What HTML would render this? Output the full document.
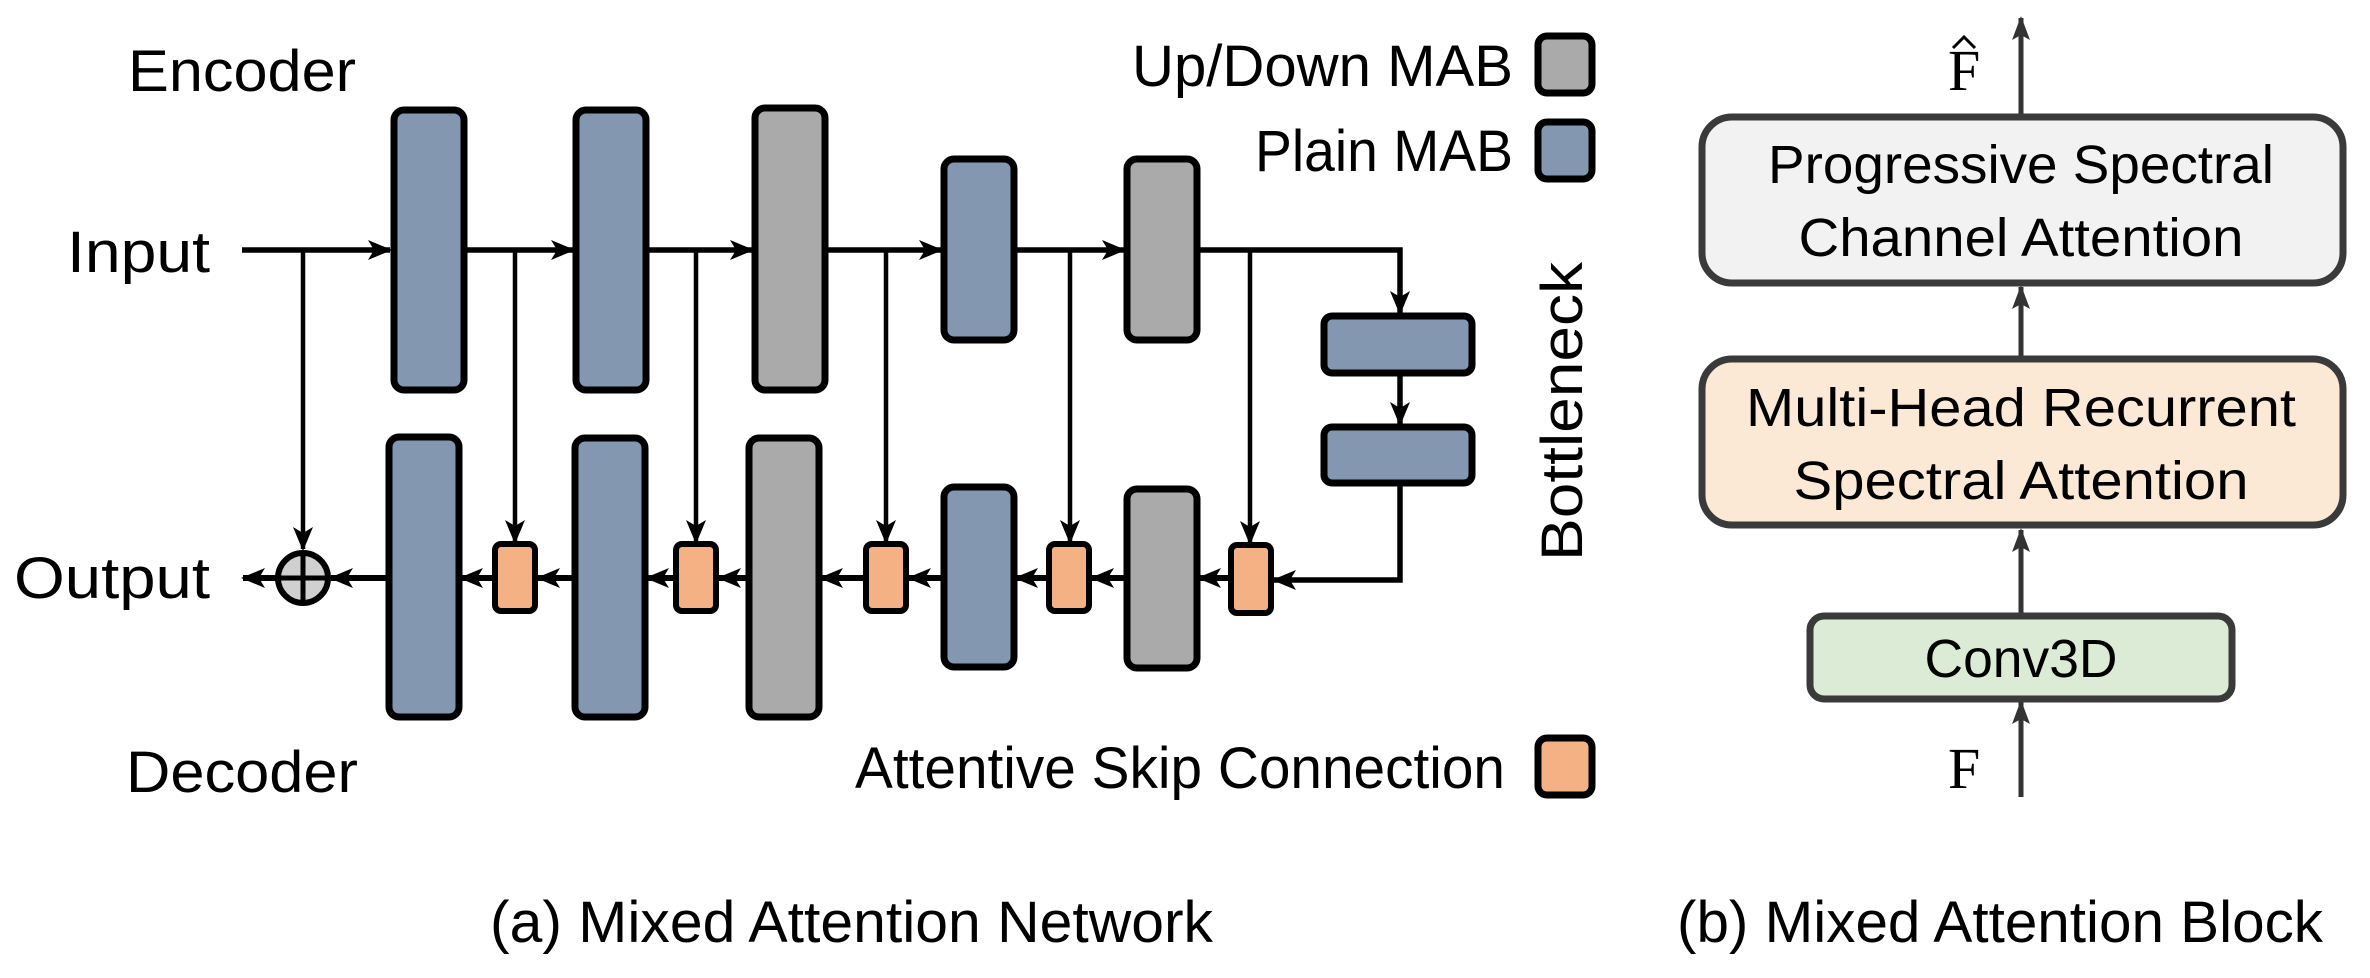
<!DOCTYPE html>
<html><head><meta charset="utf-8"><style>
html,body{margin:0;padding:0;background:#fff;}
svg{display:block;}
text{font-family:"Liberation Sans",sans-serif;fill:#000;}
</style></head><body>
<svg width="2370" height="978" viewBox="0 0 2370 978" xmlns="http://www.w3.org/2000/svg">
<defs>
<marker id="a" markerUnits="userSpaceOnUse" markerWidth="26" markerHeight="22" refX="22" refY="11" orient="auto">
<path d="M0,1 L24,11 L0,21 L6,11 Z" fill="#000"/>
</marker>
<marker id="b" markerUnits="userSpaceOnUse" markerWidth="26" markerHeight="26" refX="22" refY="11" orient="auto">
<path d="M0,2 L24,11 L0,20 L5,11 Z" fill="#333"/>
</marker>
</defs>
<g stroke="#000" stroke-width="5.5" fill="none">
<line x1="242" y1="250" x2="390" y2="250" marker-end="url(#a)"/>
<line x1="464" y1="250" x2="573" y2="250" marker-end="url(#a)"/>
<line x1="646" y1="250" x2="752" y2="250" marker-end="url(#a)"/>
<line x1="825" y1="250" x2="941" y2="250" marker-end="url(#a)"/>
<line x1="1014" y1="250" x2="1124" y2="250" marker-end="url(#a)"/>
<polyline points="1197,250 1400,250 1400,313" marker-end="url(#a)"/>
<line x1="1400" y1="373" x2="1400" y2="424" marker-end="url(#a)"/>
<polyline points="1400,483 1400,580 1274,580" marker-end="url(#a)"/>
</g>
<g stroke="#000" stroke-width="4.5" fill="none">
<line x1="303" y1="250" x2="303" y2="549" marker-end="url(#a)"/>
<line x1="515" y1="250" x2="515" y2="542" marker-end="url(#a)"/>
<line x1="696" y1="250" x2="696" y2="542" marker-end="url(#a)"/>
<line x1="886" y1="250" x2="886" y2="542" marker-end="url(#a)"/>
<line x1="1070" y1="250" x2="1070" y2="542" marker-end="url(#a)"/>
<line x1="1250" y1="250" x2="1250" y2="543" marker-end="url(#a)"/>
</g>
<g stroke="#000" stroke-width="6" fill="none">
<line x1="1230" y1="578" x2="1199" y2="578" marker-end="url(#a)"/>
<line x1="1126" y1="578" x2="1092" y2="578" marker-end="url(#a)"/>
<line x1="1048" y1="578" x2="1016" y2="578" marker-end="url(#a)"/>
<line x1="943" y1="578" x2="909" y2="578" marker-end="url(#a)"/>
<line x1="865" y1="578" x2="821" y2="578" marker-end="url(#a)"/>
<line x1="748" y1="578" x2="719" y2="578" marker-end="url(#a)"/>
<line x1="675" y1="578" x2="647" y2="578" marker-end="url(#a)"/>
<line x1="574" y1="578" x2="538" y2="578" marker-end="url(#a)"/>
<line x1="494" y1="578" x2="461" y2="578" marker-end="url(#a)"/>
<line x1="388" y1="578" x2="331" y2="578" marker-end="url(#a)"/>
<line x1="277" y1="578" x2="243" y2="578" marker-end="url(#a)"/>
</g>
<circle cx="303" cy="578" r="25" fill="#d0d0d0" stroke="#000" stroke-width="6"/>
<line x1="303" y1="553" x2="303" y2="603" stroke="#000" stroke-width="5"/>
<line x1="278" y1="578" x2="328" y2="578" stroke="#000" stroke-width="5"/>
<g stroke="#000" stroke-width="7">
<rect x="394" y="110" width="70" height="280" rx="10" fill="#8497b0"/>
<rect x="576" y="110" width="70" height="280" rx="10" fill="#8497b0"/>
<rect x="755" y="108" width="70" height="282" rx="10" fill="#aaaaaa"/>
<rect x="944" y="159" width="70" height="181" rx="10" fill="#8497b0"/>
<rect x="1127" y="159" width="70" height="181" rx="10" fill="#aaaaaa"/>
<rect x="1324" y="316" width="148" height="57" rx="8" fill="#8497b0"/>
<rect x="1324" y="427" width="148" height="56" rx="8" fill="#8497b0"/>
<rect x="389" y="437" width="70" height="280" rx="10" fill="#8497b0"/>
<rect x="575" y="438" width="70" height="279" rx="10" fill="#8497b0"/>
<rect x="749" y="438" width="70" height="279" rx="10" fill="#aaaaaa"/>
<rect x="944" y="487" width="70" height="180" rx="10" fill="#8497b0"/>
<rect x="1127" y="489" width="70" height="179" rx="10" fill="#aaaaaa"/>
</g>
<g stroke="#000" stroke-width="6" fill="#f4b183">
<rect x="495" y="544" width="40" height="67" rx="6"/>
<rect x="676" y="544" width="40" height="67" rx="6"/>
<rect x="866" y="544" width="40" height="67" rx="6"/>
<rect x="1049" y="544" width="40" height="67" rx="6"/>
<rect x="1231" y="545" width="40" height="68" rx="6"/>
</g>
<rect x="1538" y="36" width="54" height="57" rx="9" fill="#aaaaaa" stroke="#000" stroke-width="7"/>
<rect x="1538" y="122" width="54" height="57" rx="9" fill="#8497b0" stroke="#000" stroke-width="7"/>
<rect x="1538" y="738" width="54" height="57" rx="9" fill="#f4b183" stroke="#000" stroke-width="7"/>
<g font-size="58">
<text x="128" y="91" textLength="228" lengthAdjust="spacingAndGlyphs">Encoder</text>
<text x="67" y="272" textLength="143" lengthAdjust="spacingAndGlyphs">Input</text>
<text x="14" y="598" textLength="196" lengthAdjust="spacingAndGlyphs">Output</text>
<text x="126" y="792" textLength="232" lengthAdjust="spacingAndGlyphs">Decoder</text>
<text x="1132" y="86" textLength="381" lengthAdjust="spacingAndGlyphs">Up/Down MAB</text>
<text x="1255" y="171" textLength="258" lengthAdjust="spacingAndGlyphs">Plain MAB</text>
<text x="855" y="788" textLength="650" lengthAdjust="spacingAndGlyphs">Attentive Skip Connection</text>
<text x="490" y="942" textLength="723" lengthAdjust="spacingAndGlyphs">(a) Mixed Attention Network</text>
<text x="1677" y="942" textLength="646" lengthAdjust="spacingAndGlyphs">(b) Mixed Attention Block</text>
<text transform="translate(1582,561) rotate(-90)" textLength="299" lengthAdjust="spacingAndGlyphs">Bottleneck</text>
</g>
<g stroke="#333" stroke-width="5">
<line x1="2021" y1="797" x2="2021" y2="702" marker-end="url(#b)"/>
<line x1="2021" y1="614" x2="2021" y2="530" marker-end="url(#b)"/>
<line x1="2021" y1="357" x2="2021" y2="287" marker-end="url(#b)"/>
<line x1="2021" y1="114" x2="2021" y2="18" marker-end="url(#b)"/>
</g>
<g stroke="#3a3a3a" stroke-width="7">
<rect x="1702" y="117" width="641" height="166" rx="30" fill="#f2f2f2"/>
<rect x="1702" y="359" width="641" height="166" rx="30" fill="#fbe9d6"/>
<rect x="1810" y="616" width="422" height="83" rx="14" fill="#dcebd6"/>
</g>
<g font-size="54" text-anchor="middle">
<text x="2021" y="183" textLength="506" lengthAdjust="spacingAndGlyphs">Progressive Spectral</text>
<text x="2021" y="256" textLength="445" lengthAdjust="spacingAndGlyphs">Channel Attention</text>
<text x="2021" y="426" textLength="550" lengthAdjust="spacingAndGlyphs">Multi-Head Recurrent</text>
<text x="2021" y="499" textLength="455" lengthAdjust="spacingAndGlyphs">Spectral Attention</text>
<text x="2021" y="677" textLength="193" lengthAdjust="spacingAndGlyphs">Conv3D</text>
</g>
<text x="1948" y="90" font-size="58" style="font-family:'Liberation Serif',serif">F</text>
<text x="1948" y="788" font-size="58" style="font-family:'Liberation Serif',serif">F</text>
<path d="M1953,48 L1964,37 L1975,48" stroke="#000" stroke-width="3" fill="none"/>
</svg>
</body></html>
